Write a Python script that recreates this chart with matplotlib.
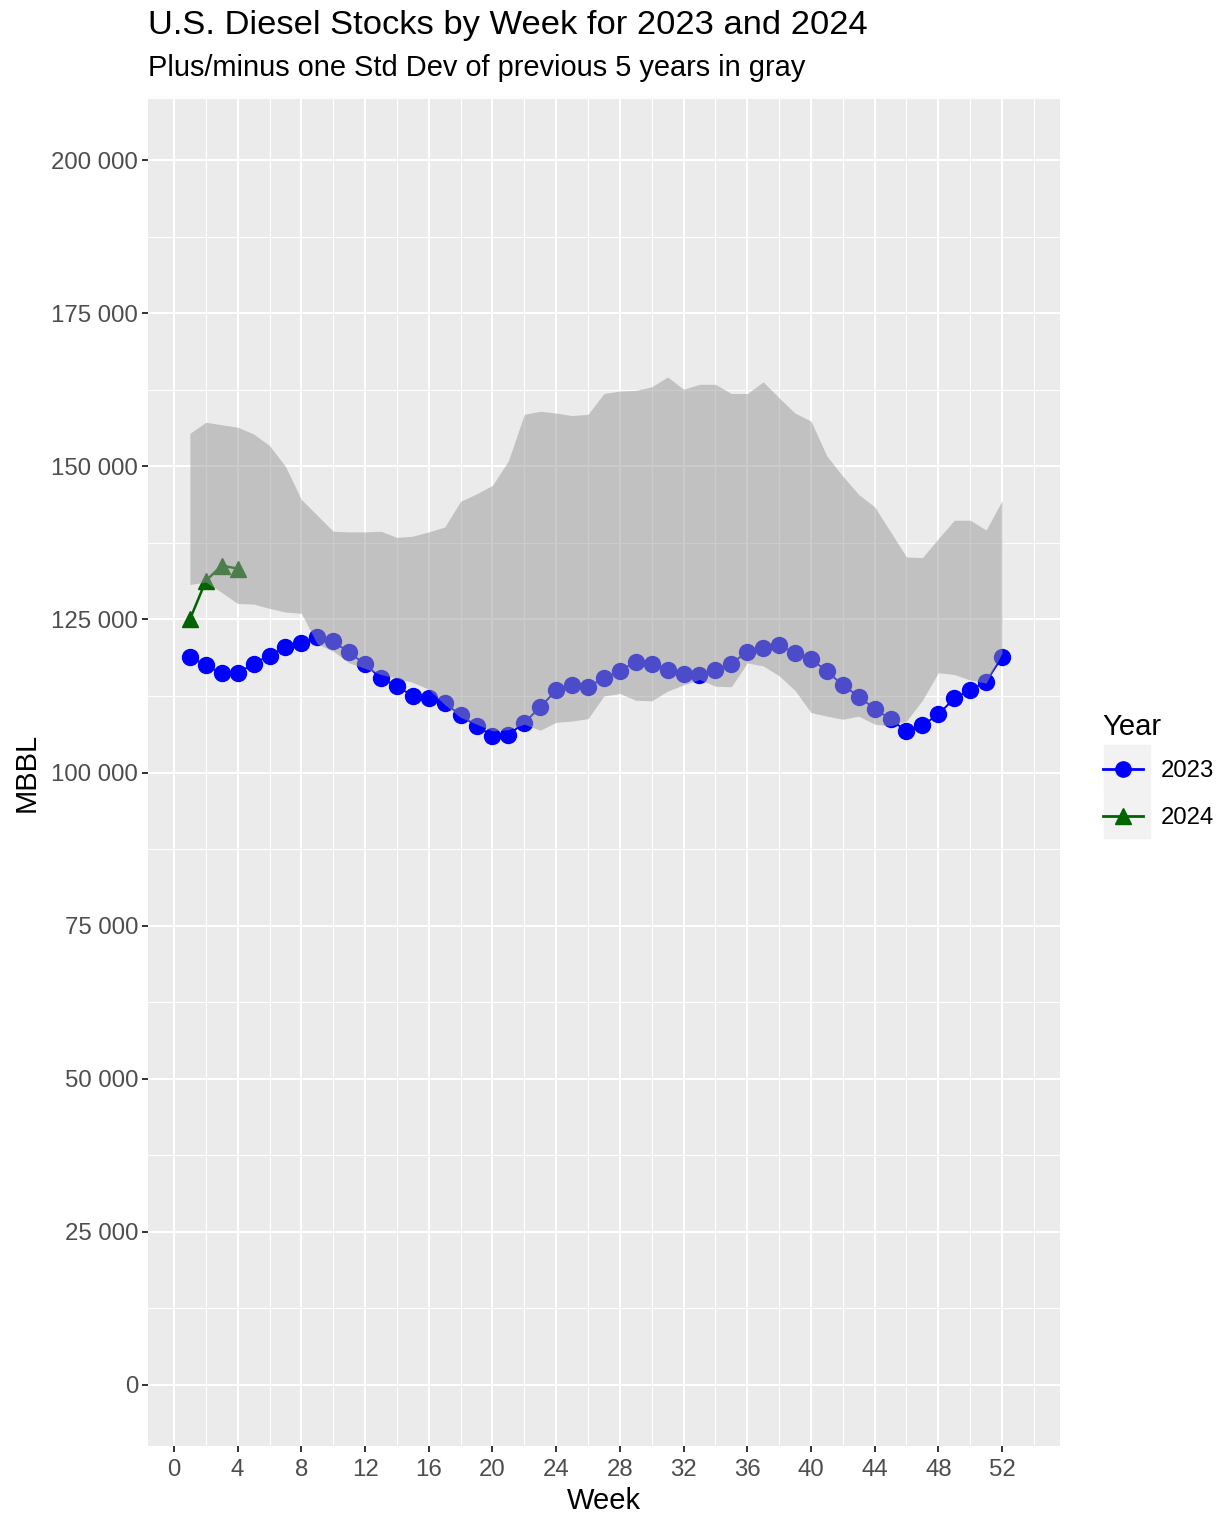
import numpy as np
import matplotlib.pyplot as plt
from matplotlib.lines import Line2D
from matplotlib.patches import Rectangle
from matplotlib.ticker import FuncFormatter

plt.rcParams['font.family'] = ['Liberation Sans', 'DejaVu Sans']

# weekly diesel stocks, thousand barrels
weeks = np.arange(1, 53)
stocks_2023 = [118.9, 117.5, 116.2, 116.2, 117.8, 119.1, 120.5, 121.1, 122.1, 121.4,
               119.6, 117.7, 115.4, 114.1, 112.5, 112.1, 111.3, 109.4, 107.6, 106.0,
               106.2, 108.1, 110.7, 113.4, 114.3, 114.0, 115.4, 116.6, 118.1, 117.8,
               116.8, 116.1, 115.9, 116.8, 117.8, 119.7, 120.3, 120.8, 119.5, 118.6,
               116.5, 114.3, 112.4, 110.4, 108.7, 106.7, 107.7, 109.5, 112.1, 113.5,
               114.8, 118.9]
weeks_2024 = [1, 2, 3, 4]
stocks_2024 = [125.0, 131.3, 133.8, 133.3]

# previous 5 years mean +/- one std dev
band_upper = [155.4, 157.2, 156.8, 156.4, 155.3, 153.4, 150.0, 144.6, 142.0, 139.4,
              139.3, 139.3, 139.4, 138.4, 138.6, 139.3, 140.1, 144.3, 145.5, 146.9,
              150.9, 158.5, 159.0, 158.7, 158.3, 158.5, 161.9, 162.3, 162.4, 163.0,
              164.6, 162.6, 163.4, 163.4, 161.9, 161.9, 163.8, 161.2, 158.7, 157.4,
              151.7, 148.4, 145.4, 143.4, 139.3, 135.2, 135.1, 138.2, 141.2, 141.2,
              139.6, 144.4]
band_lower = [130.7, 131.1, 129.4, 127.6, 127.5, 126.8, 126.2, 126.0, 121.0, 119.8,
              117.9, 117.0, 116.0, 115.4, 114.7, 113.6, 111.1, 109.0, 107.9, 106.8,
              107.0, 107.9, 106.9, 108.2, 108.4, 108.8, 112.5, 112.9, 111.8, 111.7,
              113.3, 114.3, 115.2, 114.1, 114.0, 117.9, 117.4, 115.8, 113.4, 109.8,
              109.2, 108.7, 109.2, 107.9, 107.6, 108.4, 111.8, 116.3, 116.0, 115.1,
              114.6, 119.5]

s23 = np.array(stocks_2023) * 1000
s24 = np.array(stocks_2024) * 1000
up = np.array(band_upper) * 1000
lo = np.array(band_lower) * 1000

fig = plt.figure(figsize=(12.28, 15.15), dpi=100)
ax = fig.add_axes([148 / 1228, 1 - 1446 / 1515, (1060 - 148) / 1228, (1446 - 99) / 1515])
ax.set_facecolor('#EBEBEB')
for s in ax.spines.values():
    s.set_visible(False)

ax.set_xlim(-1.63, 55.64)
ax.set_ylim(-10000, 210000)
ax.set_xticks(np.arange(0, 53, 4))
ax.set_xticks(np.arange(2, 55, 4), minor=True)
ax.set_yticks(np.arange(0, 200001, 25000))
ax.set_yticks(np.arange(12500, 200000, 25000), minor=True)
ax.yaxis.set_major_formatter(FuncFormatter(lambda v, p: f"{int(v):,}".replace(",", " ")))
ax.grid(which='major', color='white', lw=1.5)
ax.grid(which='minor', color='white', lw=0.8)
ax.set_axisbelow(True)
ax.tick_params(which='major', length=4, width=1.4, color='#333333',
               labelsize=17.3, labelcolor='#4D4D4D', pad=3)
ax.tick_params(axis='x', which='major', pad=5)
ax.tick_params(which='minor', length=0)

ax.plot(weeks, s23, color='blue', lw=1.4, marker='o', ms=11.5, zorder=3)
ax.plot(weeks_2024, s24, color='#006400', lw=1.8, marker='^', ms=12, zorder=3)
ax.fill_between(weeks, lo, up, color='#999999', alpha=0.5, lw=0, zorder=4)

ax.set_xlabel('Week', fontsize=21, labelpad=5)
ax.set_ylabel('MBBL', fontsize=21, labelpad=8)

fig.text(148 / 1228, 1 - 34 / 1515, 'U.S. Diesel Stocks by Week for 2023 and 2024',
         fontsize=24.8, ha='left', va='baseline')
fig.text(148 / 1228, 1 - 76 / 1515, 'Plus/minus one Std Dev of previous 5 years in gray',
         fontsize=20.9, ha='left', va='baseline')

# legend
fig.patches.append(Rectangle((1104 / 1228, 1 - 838 / 1515), 46 / 1228, 93 / 1515,
                             transform=fig.transFigure, color='#F2F2F2', zorder=0))
handles = [Line2D([], [], color='blue', lw=2, marker='o', ms=11),
           Line2D([], [], color='#006400', lw=2, marker='^', ms=11)]
leg = fig.legend(handles, ['2023', '2024'], title='Year', loc='upper left',
                 bbox_to_anchor=(1093 / 1228, 1 - 703 / 1515), frameon=False,
                 fontsize=17.2, title_fontsize=21, handlelength=1.7,
                 labelspacing=1.05, handletextpad=0.75, borderaxespad=0)
leg._legend_box.align = 'left'
leg._legend_box.sep = 14

fig.savefig('out.png', dpi=100)
